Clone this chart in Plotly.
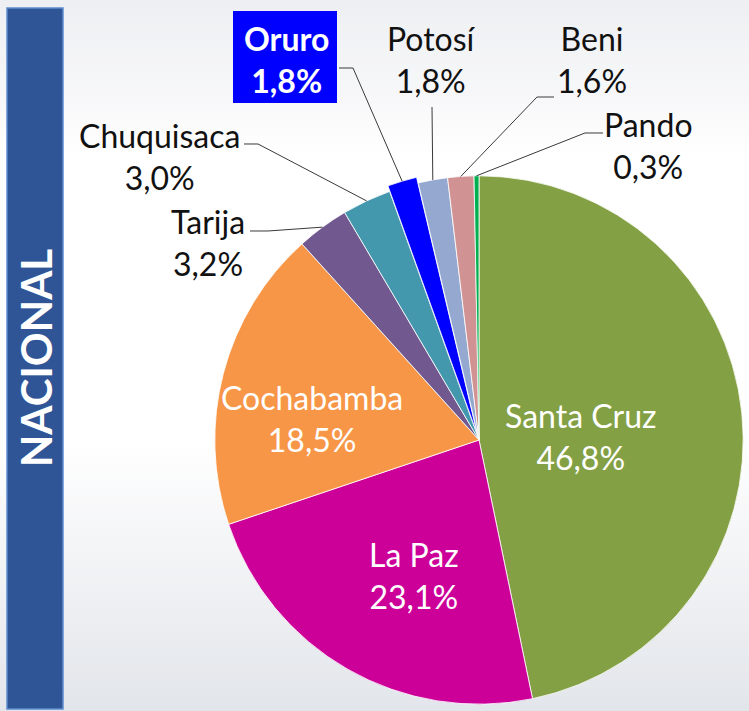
import math
import plotly.graph_objects as go

W, H = 749, 711

# ---------------- data ----------------
departamentos = ["Santa Cruz", "La Paz", "Cochabamba", "Tarija", "Chuquisaca",
                 "Oruro", "Potosí", "Beni", "Pando"]
porcentajes = [46.8, 23.1, 18.5, 3.2, 3.0, 1.8, 1.8, 1.6, 0.3]
colores = ["#83A045", "#CC0099", "#F79646", "#71588F", "#4398AE",
           "#0000FF", "#95A9D0", "#D09292", "#00B050"]
titulo = "NACIONAL"

def fmt(v):
    return f"{v:.1f}".replace(".", ",") + "%"

# ---------------- layout config (pixel positions) ----------------
PIE_CX, PIE_CY, PIE_HALF = 479, 440, 270
PULL = {"Oruro": 0.022}
FONT = "Lato"
FS = 32

label_pos = {
    "Santa Cruz": (580, 436, "white"),
    "La Paz": (414, 575, "white"),
    "Cochabamba": (312, 418, "white"),
    "Tarija": (208, 242, "#111111"),
    "Chuquisaca": (159, 156, "#111111"),
    "Oruro": (286, 60, "white"),
    "Potosí": (431, 60, "#111111"),
    "Beni": (592, 60, "#111111"),
    "Pando": (648, 146, "#111111"),
}
leader_pts = {
    "Chuquisaca": [(244, 144), (258, 144)],
    "Tarija": [(250, 231), (268, 231)],
    "Oruro": [(339, 68), (353, 68)],
    "Potosí": [(432, 107)],
    "Beni": [(554, 97), (537, 97)],
    "Pando": [(603, 133), (585, 133)],
}

def px(x):
    return x / W

def py(y):
    return 1 - y / H

dom_x = [(PIE_CX - PIE_HALF) / W, min(1.0, (PIE_CX + PIE_HALF) / W)]
dom_y = [max(0.0, 1 - (PIE_CY + PIE_HALF) / H), 1 - (PIE_CY - PIE_HALF) / H]
pulls = [PULL.get(d, 0) for d in departamentos]
max_pull = max(pulls)
box_w = W * (dom_x[1] - dom_x[0])
box_h = H * (dom_y[1] - dom_y[0])
R = min(box_w, box_h) / (2 + 2 * max_pull)
CX = W * (dom_x[0] + dom_x[1]) / 2
CY = H * (1 - dom_y[0]) - box_h / 2

fig = go.Figure()
fig.add_trace(go.Pie(
    labels=departamentos,
    values=porcentajes,
    marker=dict(colors=colores, line=dict(color="rgba(255,255,255,0.8)", width=1)),
    sort=False,
    direction="clockwise",
    rotation=0,
    pull=pulls,
    textinfo="none",
    hoverinfo="label+percent",
    showlegend=False,
    domain=dict(x=dom_x, y=dom_y),
))

# ---------------- background gradient ----------------
stops = [(0, (237, 239, 242)), (100, (248, 248, 250)), (160, (255, 255, 255)),
         (440, (255, 255, 255)), (711, (226, 229, 234))]

def bg_color(y):
    for (y0, c0), (y1, c1) in zip(stops[:-1], stops[1:]):
        if y0 <= y <= y1:
            t = (y - y0) / (y1 - y0) if y1 > y0 else 0
            c = [round(a + (b - a) * t) for a, b in zip(c0, c1)]
            return f"rgb({c[0]},{c[1]},{c[2]})"
    return "white"

shapes = []
band = 8
for y in range(0, H, band):
    shapes.append(dict(type="rect", xref="paper", yref="paper", layer="below",
                       x0=0, x1=1, y0=py(y + band), y1=py(y),
                       fillcolor=bg_color(y + band / 2), line=dict(width=0)))

# title bar
shapes.append(dict(type="rect", xref="paper", yref="paper", layer="above",
                   x0=px(7), x1=px(63), y0=py(709), y1=py(8),
                   fillcolor="#2F5597", line=dict(color="#5E8BD0", width=1.5)))

# Oruro highlight box
shapes.append(dict(type="rect", xref="paper", yref="paper", layer="above",
                   x0=px(233), x1=px(337), y0=py(103), y1=py(11),
                   fillcolor="#0000FF", line=dict(width=0)))

# leader lines: end point from slice mid-angle computed from data
total = sum(porcentajes)
cum = 0.0
edge = {}
for d, v, p in zip(departamentos, porcentajes, pulls):
    theta = 2 * math.pi * (cum + v / 2) / total
    rr = R * (1 + p)
    edge[d] = (CX + rr * math.sin(theta), CY - rr * math.cos(theta))
    cum += v

for d, pts in leader_pts.items():
    allpts = pts + [edge[d]]
    path = "M " + " L ".join(f"{px(x):.5f},{py(y):.5f}" for x, y in allpts)
    shapes.append(dict(type="path", xref="paper", yref="paper", layer="above",
                       path=path, line=dict(color="#3A3A3A", width=1)))

annotations = []
for d, v in zip(departamentos, porcentajes):
    x, y, col = label_pos[d]
    txt = f"{d}<br>{fmt(v)}"
    if d == "Oruro":
        txt = f"<b>{d}</b><br><b>{fmt(v)}</b>"
    annotations.append(dict(x=px(x), y=py(y), xref="paper", yref="paper",
                            text=txt, showarrow=False, xanchor="center", yanchor="middle",
                            align="center", font=dict(family=FONT, size=FS, color=col)))

annotations.append(dict(x=px(36), y=py(358), xref="paper", yref="paper",
                        text=f"<b>{titulo}</b>", showarrow=False, textangle=-90,
                        xanchor="center", yanchor="middle",
                        font=dict(family=FONT, size=42, color="white")))

fig.update_layout(
    width=W, height=H,
    margin=dict(l=0, r=0, t=0, b=0),
    paper_bgcolor="white",
    plot_bgcolor="white",
    shapes=shapes,
    annotations=annotations,
)

fig.write_html("out.html",
               config={"displayModeBar": False},
               post_script="document.body.style.margin='0';document.body.style.overflow='hidden';")
